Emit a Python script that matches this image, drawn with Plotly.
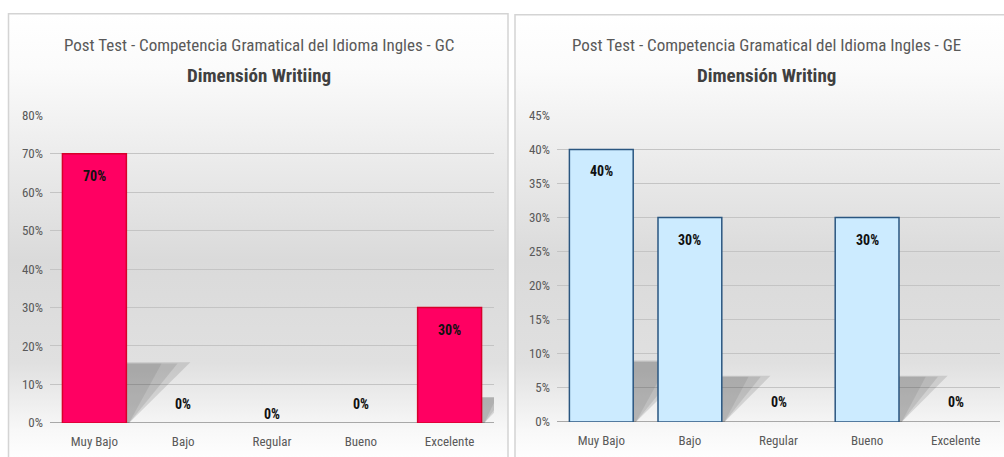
import base64
import plotly.graph_objects as go

# ---------------- data ----------------
categories = ["Muy Bajo", "Bajo", "Regular", "Bueno", "Excelente"]
gc_values = [0.70, 0.0, 0.0, 0.0, 0.30]
ge_values = [0.40, 0.30, 0.0, 0.30, 0.0]
gc_title = "Post Test - Competencia Gramatical del Idioma Ingles - GC"
gc_subtitle = "Dimensión Writiing"
ge_title = "Post Test - Competencia Gramatical del Idioma Ingles - GE"
ge_subtitle = "Dimensión Writing"
gc_ticks = [0, 0.1, 0.2, 0.3, 0.4, 0.5, 0.6, 0.7, 0.8]
ge_ticks = [0, 0.05, 0.10, 0.15, 0.20, 0.25, 0.30, 0.35, 0.40, 0.45]

W, H = 1004, 457
FONT = "Liberation Sans Narrow, Arial Narrow, Roboto Condensed, Liberation Sans, sans-serif"


def px_x(p):
    return p / W


def px_y(p):
    return 1 - p / H


fig = go.Figure()

# gradient panel background (svg data uri)
svg = (
    '<svg xmlns="http://www.w3.org/2000/svg" width="100" height="100" preserveAspectRatio="none">'
    '<defs><linearGradient id="g" x1="0" y1="0" x2="0" y2="1">'
    '<stop offset="0" stop-color="#ffffff"/>'
    '<stop offset="0.12" stop-color="#fbfbfb"/>'
    '<stop offset="0.55" stop-color="#dadada"/>'
    '<stop offset="0.78" stop-color="#e0e0e0"/>'
    '<stop offset="0.93" stop-color="#f8f8f8"/>'
    '<stop offset="1" stop-color="#ffffff"/>'
    '</linearGradient></defs>'
    '<rect width="100" height="100" fill="url(#g)"/></svg>'
)
src = "data:image/svg+xml;base64," + base64.b64encode(svg.encode()).decode()

panels = [(8.5, 7, 508, 470), (515, 8, 1010, 470)]
images = []
shapes = []
for (x0, y0, x1, y1) in panels:
    images.append(dict(source=src, xref="paper", yref="paper", x=px_x(x0), y=px_y(y0),
                       sizex=(x1 - x0) / W, sizey=(y1 - y0) / H, sizing="stretch",
                       layer="below", xanchor="left", yanchor="top"))
    shapes.append(dict(type="rect", xref="paper", yref="paper", x0=px_x(x0), x1=px_x(x1),
                       y0=px_y(y1), y1=px_y(y0), line=dict(color="#d4d4d4", width=1.5),
                       fillcolor="rgba(0,0,0,0)", layer="below"))

BAR_W = 0.72
panels_cfg = [
    dict(values=gc_values, ticks=gc_ticks, ymax=0.8, xdom=(50, 494), ydom=(430, 112),
         fill="#FF0062", line="#D7002B", xa="x", ya="y", title=gc_title, sub=gc_subtitle,
         cx=259, shifts=[-22, 19, 9, 19, -22]),
    dict(values=ge_values, ticks=ge_ticks, ymax=0.45, xdom=(557, 1000), ydom=(429, 112),
         fill="#CCEBFF", line="#2A5680", xa="x2", ya="y2", title=ge_title, sub=ge_subtitle,
         cx=766, shifts=[-22, -22, 20, -22, 20]),
]

annotations = []
layout_axes = {}
for i, cfg in enumerate(panels_cfg):
    vals = cfg["values"]
    xpx_per_cat = (cfg["xdom"][1] - cfg["xdom"][0]) / len(categories)
    ypx_per_unit = (cfg["ydom"][0] - cfg["ydom"][1]) / cfg["ymax"]
    # perspective shadows derived from the values, drawn between grid and bars
    for k, v in enumerate(vals):
        if v <= 0:
            continue
        dy = 0.23 * v
        dx = dy * ypx_per_unit / xpx_per_cat
        xr = k + BAR_W / 2
        for j, (op, sc) in enumerate([(0.16, 1.0), (0.14, 0.8), (0.12, 0.55)]):
            hh = dy * (0.98 if j == 0 else 0.96)
            path = f"M {k},0 L {xr + 0.03},0 L {xr + dx * sc},{hh} L {k},{hh} Z"
            shapes.append(dict(type="path", path=path, xref=cfg["xa"], yref=cfg["ya"],
                               fillcolor=f"rgba(70,70,70,{op})", line=dict(width=0),
                               layer="between"))
    fig.add_trace(go.Bar(
        x=list(range(len(categories))), y=vals, width=BAR_W,
        marker=dict(color=cfg["fill"],
                    line=dict(color=cfg["line"], width=[1.5 if v > 0 else 0 for v in vals])),
        showlegend=False, xaxis=cfg["xa"], yaxis=cfg["ya"], hoverinfo="skip"))
    for k, v in enumerate(vals):
        annotations.append(dict(x=k, y=v, xref=cfg["xa"], yref=cfg["ya"],
                                text=f"<b>{round(v * 100)}%</b>", showarrow=False,
                                yshift=cfg["shifts"][k], xanchor="center", yanchor="middle",
                                font=dict(family=FONT, size=14, color="#111111")))
    annotations.append(dict(x=px_x(cfg["cx"]), y=px_y(39), xref="paper", yref="paper",
                            text=cfg["title"], showarrow=False, xanchor="center",
                            yanchor="middle",
                            font=dict(family=FONT, size=17, color="#595959")))
    annotations.append(dict(x=px_x(cfg["cx"]), y=px_y(71), xref="paper", yref="paper",
                            text=f"<b>{cfg['sub']}</b>", showarrow=False, xanchor="center",
                            yanchor="middle",
                            font=dict(family=FONT, size=19, color="#404040")))
    suffix = "" if i == 0 else "2"
    layout_axes["xaxis" + suffix] = dict(
        domain=[px_x(cfg["xdom"][0]), px_x(cfg["xdom"][1])], range=[-0.5, 4.5],
        tickvals=list(range(len(categories))), ticktext=categories, showgrid=False,
        zeroline=False, showline=False, ticks="", anchor=cfg["ya"], ticklabelstandoff=9,
        tickfont=dict(family=FONT, size=13, color="#595959"), fixedrange=True)
    layout_axes["yaxis" + suffix] = dict(
        domain=[px_y(cfg["ydom"][0]), px_y(cfg["ydom"][1])], range=[0, cfg["ymax"]],
        tickvals=cfg["ticks"], ticktext=[f"{round(t * 100)}%" for t in cfg["ticks"]],
        showgrid=True, gridcolor="#c4c4c4", gridwidth=1, zeroline=True,
        zerolinecolor="#a8a8a8", zerolinewidth=1, ticks="", anchor=cfg["xa"],
        ticklabelstandoff=6,
        tickfont=dict(family=FONT, size=13, color="#595959"), fixedrange=True)

fig.update_layout(
    width=W, height=H, margin=dict(l=0, r=0, t=0, b=0),
    paper_bgcolor="white", plot_bgcolor="rgba(0,0,0,0)",
    images=images, shapes=shapes, annotations=annotations, bargap=0.28,
    **layout_axes)

fig.write_html(
    "out.html",
    config={"displayModeBar": False, "staticPlot": True},
    post_script="document.body.style.margin='0';document.body.style.overflow='hidden';",
)
